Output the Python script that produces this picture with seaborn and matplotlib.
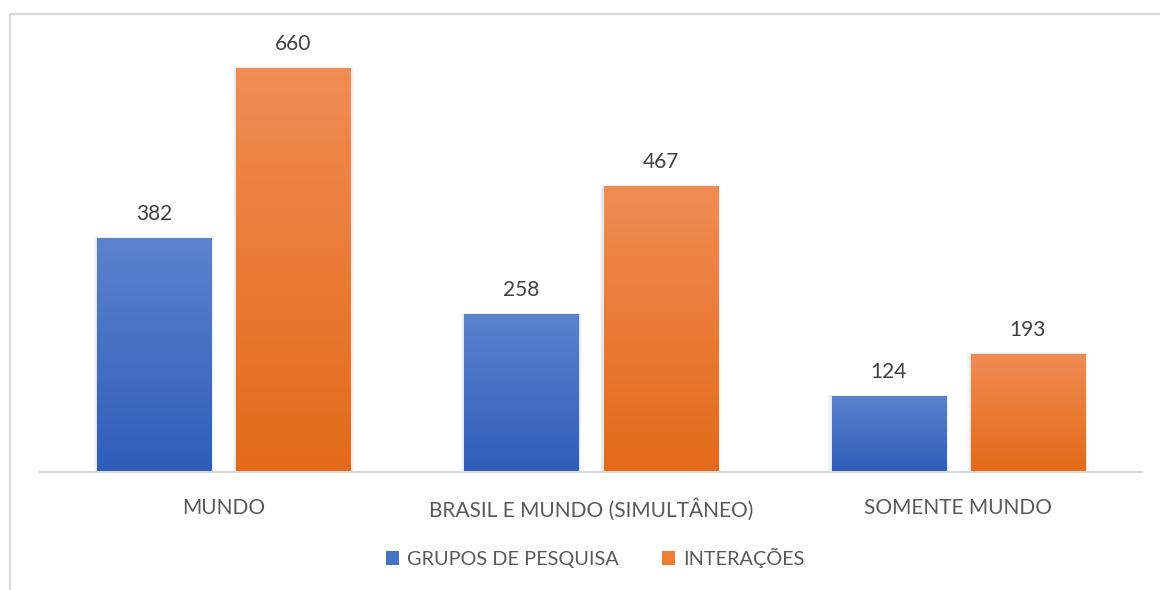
import numpy as np
import pandas as pd
import matplotlib
matplotlib.use("Agg")
import matplotlib.pyplot as plt
import seaborn as sns
from matplotlib.patches import Rectangle, Patch
from matplotlib.colors import LinearSegmentedColormap

categorias = ["MUNDO", "BRASIL E MUNDO (SIMULTÂNEO)", "SOMENTE MUNDO"]
series = ["GRUPOS DE PESQUISA", "INTERAÇÕES"]
grupos = [382, 258, 124]
interacoes = [660, 467, 193]

df = pd.DataFrame({
    "categoria": categorias * 2,
    "serie": [series[0]] * 3 + [series[1]] * 3,
    "valor": grupos + interacoes,
})

sns.set_theme(style="white")
plt.rcParams['font.family'] = ['Lato', 'DejaVu Sans']

cores = {series[0]: "#4472C4", series[1]: "#ED7D31"}
# gradiente de cada serie (topo -> base)
grad = {
    series[0]: ("#5B83CD", "#2E5DB9"),
    series[1]: ("#F08C54", "#E36A17"),
}

fig = plt.figure(figsize=(11.6, 5.9), dpi=100)
ax = fig.add_axes([40 / 1160, 0.2, (1142 - 40) / 1160, 0.726])

sns.barplot(data=df, x="categoria", y="valor", hue="serie", palette=cores,
            width=0.758, gap=0.18, ax=ax, legend=False)
ax.set_ylim(0, 700)
ax.set_xlim(-0.5, 2.5)

for cont, s in zip(ax.containers, series):
    cmap = LinearSegmentedColormap.from_list(s, [grad[s][1], grad[s][0]])
    for bar in cont:
        x0, y0 = bar.get_x(), bar.get_y()
        w, h = bar.get_width(), bar.get_height()
        # sombra suave
        for k, a in [(0.010, 0.025), (0.006, 0.035), (0.003, 0.045)]:
            ax.add_patch(Rectangle((x0 - k, y0), w + 2 * k, h + k * 700 / 3,
                                   facecolor="black", alpha=a, lw=0, zorder=1))
        bar.set_facecolor("none")
        bar.set_edgecolor("none")
        bar.set_zorder(3)
        img = ax.imshow(np.linspace(0, 1, 256).reshape(-1, 1), cmap=cmap,
                        extent=[x0, x0 + w, y0, y0 + h], origin="lower",
                        aspect="auto", zorder=2)
        img.set_clip_path(bar)
    ax.bar_label(cont, padding=10, fontsize=15, color="#404040")

ax.set_xlim(-0.5, 2.5)
ax.set_ylim(0, 700)
ax.set_xlabel("")
ax.set_ylabel("")
ax.set_yticks([])
ax.tick_params(axis="x", length=0, labelsize=15, labelcolor="#595959", pad=19)
for sp in ["top", "right", "left"]:
    ax.spines[sp].set_visible(False)
ax.spines["bottom"].set_color("#d9d9d9")
ax.spines["bottom"].set_linewidth(1.5)

# moldura do grafico
fig.add_artist(Rectangle((10 / 1160, -0.05), 1.1, 1 - 14 / 590 + 0.05,
                         transform=fig.transFigure, fill=False,
                         edgecolor="#d9d9d9", lw=1.5))

handles = [Patch(facecolor=cores[s], edgecolor="none") for s in series]
fig.legend(handles, series, loc="center", bbox_to_anchor=(0.513, 1 - 558 / 590),
           ncol=2, frameon=False, fontsize=14.3, labelcolor="#595959",
           handlelength=0.65, handleheight=0.65, handletextpad=0.4,
           columnspacing=2.2)

fig.savefig("out.png", dpi=100)
